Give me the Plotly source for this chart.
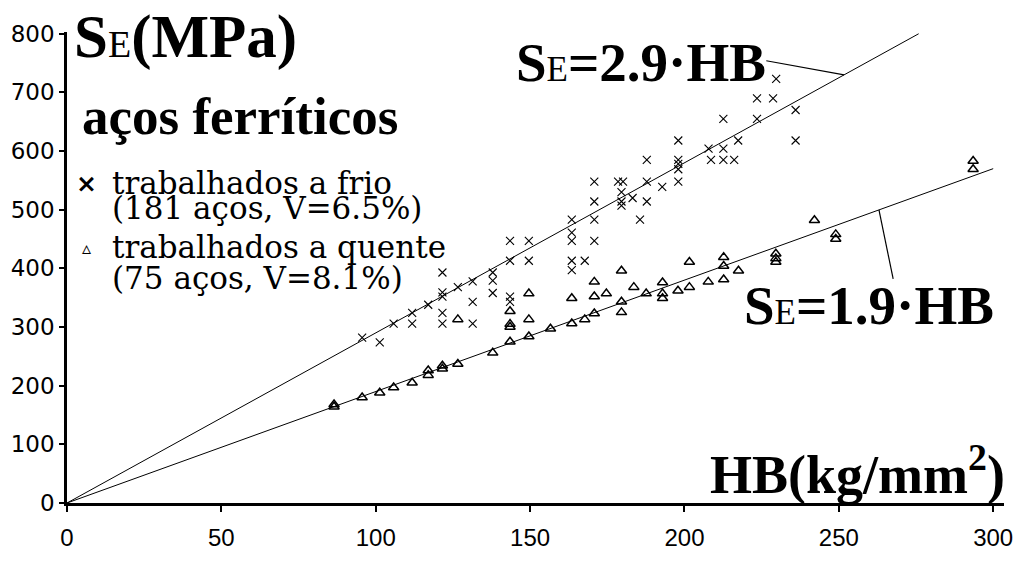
import numpy as np
import plotly.graph_objects as go

# Brinell hardness HB (kg/mm2) and yield strength S_E (MPa) of ferritic steels
hb_frio = [229.7, 223.5, 228.7, 212.6, 223.5, 236.0, 236.0, 198.0, 217.4, 207.8,
           212.6, 208.6, 212.6, 216.1, 187.8, 198.0, 198.0, 198.0, 198.0, 187.8,
           178.5, 180.1, 170.8, 192.8, 179.6, 179.6, 179.6, 183.2, 187.8, 170.8,
           185.6, 163.5, 170.8, 163.5, 163.5, 170.8, 143.5, 149.6, 143.5, 149.6,
           163.5, 167.7, 163.5, 121.6, 121.6, 121.6, 121.6, 121.6, 126.6, 131.4,
           137.9, 137.9, 137.9, 131.4, 131.4, 143.5, 143.5, 111.8, 111.8, 105.8,
           95.6, 101.3, 117.0]
se_frio = [723, 690, 690, 655, 655, 670, 618, 618, 618, 604,
           604, 585, 585, 585, 585, 585, 578, 569, 548, 548,
           548, 548, 548, 539, 530, 514, 507, 520, 514, 514,
           483, 483, 483, 461, 447, 447, 447, 447, 413, 413,
           413, 413, 397, 393, 359, 352, 324, 306, 368, 378,
           393, 379, 358, 343, 306, 352, 343, 324, 306, 306,
           282, 274, 338]

hb_quente = [86.5, 86.5, 95.6, 101.3, 105.8, 111.8, 117.0, 117.0, 121.6, 121.6,
             126.6, 126.6, 137.9, 143.5, 143.5, 143.5, 143.5, 149.6, 149.6, 149.6,
             156.6, 163.5, 163.5, 167.7, 170.8, 170.8, 170.8, 174.7, 179.6, 179.6,
             179.6, 183.6, 187.6, 192.9, 192.9, 192.9, 197.9, 201.6, 201.6, 207.7,
             212.7, 212.7, 212.7, 217.5, 229.6, 229.6, 229.6, 242.1, 249.0, 249.0,
             293.5, 293.5]
se_quente = [164, 168, 180, 188, 197, 205, 226, 218, 234, 229,
             237, 313, 256, 275, 327, 305, 300, 357, 313, 284,
             297, 306, 349, 313, 323, 377, 352, 357, 396, 343,
             325, 368, 357, 376, 357, 349, 362, 368, 411, 377,
             381, 419, 404, 396, 411, 417, 425, 482, 458, 450,
             583, 569]

# fitted proportionality constants S_E = k * HB
k_frio = 2.9
k_quente = 1.9
se_line_top = 800
hb_line_end = 300

x_ticks = [0, 50, 100, 150, 200, 250, 300]
y_ticks = [0, 100, 200, 300, 400, 500, 600, 700, 800]

W, H = 1024, 562
ML, MR, MT, MB = 67, 11, 32, 38


def px(xp):
    return (xp - ML) / (W - ML - MR)


def py(yp):
    return (H - MB - yp) / (H - MT - MB)


hb_a = np.array([0.0, se_line_top / k_frio])
hb_b = np.array([0.0, hb_line_end])

fig = go.Figure()
fig.add_trace(go.Scatter(x=hb_a, y=k_frio * hb_a, mode="lines",
                         line=dict(color="black", width=1), hoverinfo="skip"))
fig.add_trace(go.Scatter(x=hb_b, y=k_quente * hb_b, mode="lines",
                         line=dict(color="black", width=1), hoverinfo="skip"))
fig.add_trace(go.Scatter(x=hb_frio, y=se_frio, mode="markers", name="trabalhados a frio",
                         marker=dict(symbol="x-thin-open", size=8, color="black",
                                     line=dict(color="black", width=1.1))))
fig.add_trace(go.Scatter(x=hb_quente, y=se_quente, mode="markers", name="trabalhados a quente",
                         marker=dict(symbol="triangle-up-open", size=9, color="black",
                                     line=dict(color="black", width=1.5))))

serif = "Liberation Serif, Times New Roman, serif"
wide_serif = "DejaVu Serif, serif"


def label(text, x, y, size, family=serif, anchor="left"):
    return dict(text=text, xref="paper", yref="paper", x=px(x), y=py(y),
                xanchor=anchor, yanchor="middle", showarrow=False,
                font=dict(family=family, size=size, color="black"))


annotations = [
    label("<b>S</b><span style='font-size:38px'>E</span><b>(MPa)</b>", 72, 37, 61),
    label("<b>aços ferríticos</b>", 80, 120, 53),
    label("<b>×</b>", 87, 190, 25, family="DejaVu Sans", anchor="center"),
    label("trabalhados a frio", 110, 190, 31, family=wide_serif),
    label("(181 aços, V=6.5%)", 110, 216, 31, family=wide_serif),
    label("<b>▵</b>", 87, 257, 18, family="DejaVu Sans", anchor="center"),
    label("trabalhados a quente", 110, 257, 31, family=wide_serif),
    label("(75 aços, V=8.1%)", 110, 289, 31, family=wide_serif),
    label("<b>S</b><span style='font-size:35px'>E</span><b>=2.9·HB</b>", 518, 64, 55),
    label("<b>S</b><span style='font-size:35px'>E</span><b>=1.9·HB</b>", 748, 318, 55),
    label("<b>HB(kg/mm<sup>2</sup>)</b>", 1016, 490, 54, anchor="right"),
]

# leader lines from each equation to its fitted line
hb_tip_a, hb_tail_a, se_tail_a = 251.7, 226.5, 754
hb_tip_b, hb_tail_b, se_tail_b = 263.0, 267.6, 382
shapes = [
    dict(type="line", xref="x", yref="y", x0=hb_tail_a, y0=se_tail_a,
         x1=hb_tip_a, y1=k_frio * hb_tip_a, line=dict(color="black", width=1.2)),
    dict(type="line", xref="x", yref="y", x0=hb_tail_b, y0=se_tail_b,
         x1=hb_tip_b, y1=k_quente * hb_tip_b, line=dict(color="black", width=1.2)),
]

fig.update_layout(
    width=W, height=H, margin=dict(l=ML, r=MR, t=MT, b=MB, pad=0),
    paper_bgcolor="white", plot_bgcolor="white", showlegend=False,
    annotations=annotations, shapes=shapes,
)
fig.update_xaxes(range=[0, 303.5], tickvals=x_ticks, showline=True, linewidth=3,
                 linecolor="black", ticks="outside", ticklen=6, tickwidth=2,
                 tickcolor="black", showgrid=False, zeroline=False,
                 ticklabelstandoff=5,
                 tickfont=dict(family="Liberation Sans, Arial, sans-serif",
                               size=24, color="black"))
fig.update_yaxes(range=[0, 803], tickvals=y_ticks, showline=True, linewidth=2.5,
                 linecolor="black", ticks="outside", ticklen=5, tickwidth=2,
                 tickcolor="black", showgrid=False, zeroline=False,
                 tickfont=dict(family="DejaVu Sans", size=23, color="black"))

fig.write_html("out.html")
